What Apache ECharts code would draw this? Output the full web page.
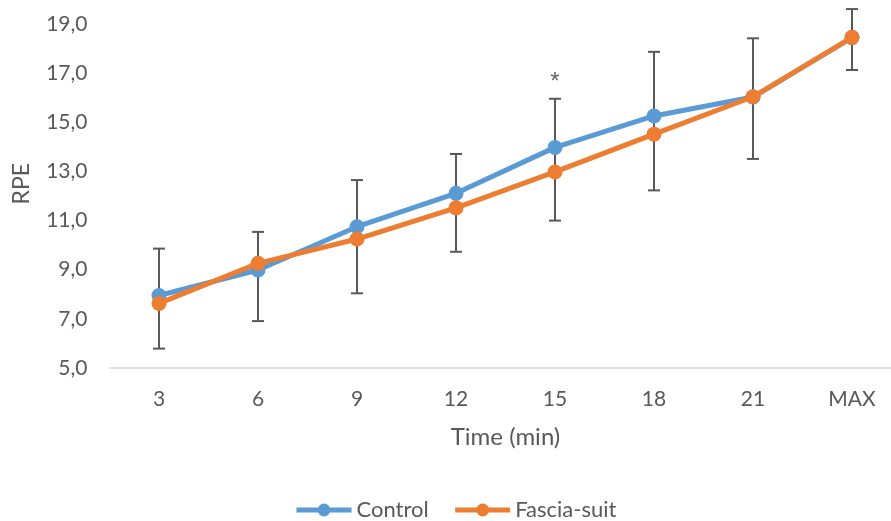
<!DOCTYPE html>
<html>
<head>
<meta charset="utf-8">
<script src="https://cdn.jsdelivr.net/npm/echarts@6/dist/echarts.min.js"></script>
<style>
html,body{margin:0;padding:0;background:#fff;}
#chart{width:891px;height:521px;}
</style>
</head>
<body>
<div id="chart"></div>
<script>
const categories = ['3', '6', '9', '12', '15', '18', '21', 'MAX'];
const control = [7.95, 8.99, 10.75, 12.11, 13.98, 15.26, 16.03, 18.45];
const fascia = [7.63, 9.26, 10.25, 11.52, 12.98, 14.52, 16.04, 18.46];
const errHigh = [9.86, 10.54, 12.65, 13.71, 15.96, 17.87, 18.42, 19.61];
const errLow = [5.79, 6.91, 8.04, 9.73, 11.00, 12.23, 13.51, 17.13];
const significant = ['15'];
const seriesNames = ['Control', 'Fascia-suit'];
const yMin = 5, yMax = 20, yStep = 2;

const textColor = '#595959';
const font = 'Lato';

const chart = echarts.init(document.getElementById('chart'), null, {renderer: 'canvas'});

const errData = categories.map((c, i) => [i, errLow[i], errHigh[i]]);
const sigData = significant.map(c => {
  const i = categories.indexOf(c);
  return [i, errHigh[i]];
});

chart.setOption({
  animation: false,
  backgroundColor: '#fff',
  grid: {left: 109.5, width: 792, top: -0.5, bottom: 153, outerBoundsMode: 'none', containLabel: false},
  legend: {
    data: seriesNames,
    top: 494,
    left: 289,
    itemWidth: 55,
    itemHeight: 16,
    itemGap: 24,
    lineStyle: {width: 5},
    textStyle: {color: textColor, fontFamily: font, fontSize: 22}
  },
  xAxis: {
    type: 'category',
    data: categories,
    name: 'Time (min)',
    nameLocation: 'middle',
    nameGap: 57,
    nameTextStyle: {color: textColor, fontFamily: font, fontSize: 24},
    axisLine: {lineStyle: {color: '#d9d9d9', width: 1.5}},
    axisTick: {show: false},
    axisLabel: {color: textColor, fontFamily: font, fontSize: 21, margin: 21}
  },
  yAxis: {
    type: 'value',
    min: yMin,
    max: yMax,
    interval: yStep,
    name: 'RPE',
    nameLocation: 'middle',
    nameGap: 76,
    nameTextStyle: {color: textColor, fontFamily: font, fontSize: 23},
    axisLine: {show: false},
    axisTick: {show: false},
    splitLine: {show: false},
    axisLabel: {
      color: textColor, fontFamily: font, fontSize: 21, margin: 22,
      showMaxLabel: false,
      formatter: v => v.toFixed(1).replace('.', ',')
    }
  },
  series: [
    {
      type: 'custom',
      name: 'err',
      z: 1,
      clip: false,
      data: errData,
      encode: {x: 0, y: [1, 2]},
      renderItem: function (params, api) {
        const x = api.value(0);
        const lo = api.coord([x, api.value(1)]);
        const hi = api.coord([x, api.value(2)]);
        const hw = 6;
        const st = {stroke: '#595959', lineWidth: 2};
        return {
          type: 'group',
          children: [
            {type: 'line', shape: {x1: lo[0], y1: lo[1], x2: hi[0], y2: hi[1]}, style: st},
            {type: 'line', shape: {x1: lo[0] - hw, y1: lo[1], x2: lo[0] + hw, y2: lo[1]}, style: st},
            {type: 'line', shape: {x1: hi[0] - hw, y1: hi[1], x2: hi[0] + hw, y2: hi[1]}, style: st}
          ]
        };
      }
    },
    {
      name: seriesNames[0],
      type: 'line',
      z: 3,
      data: control,
      symbol: 'circle',
      symbolSize: 15,
      itemStyle: {color: '#5B9BD5'},
      lineStyle: {color: '#5B9BD5', width: 5}
    },
    {
      name: seriesNames[1],
      type: 'line',
      z: 4,
      data: fascia,
      symbol: 'circle',
      symbolSize: 15,
      itemStyle: {color: '#ED7D31'},
      lineStyle: {color: '#ED7D31', width: 5}
    },
    {
      name: 'sig',
      type: 'scatter',
      z: 5,
      symbolSize: 1,
      itemStyle: {color: 'rgba(0,0,0,0)'},
      data: sigData,
      label: {
        show: true,
        position: 'top',
        distance: 4,
        formatter: '*',
        color: '#404040',
        fontFamily: 'Liberation Sans',
        fontSize: 24
      }
    }
  ]
});
</script>
</body>
</html>
